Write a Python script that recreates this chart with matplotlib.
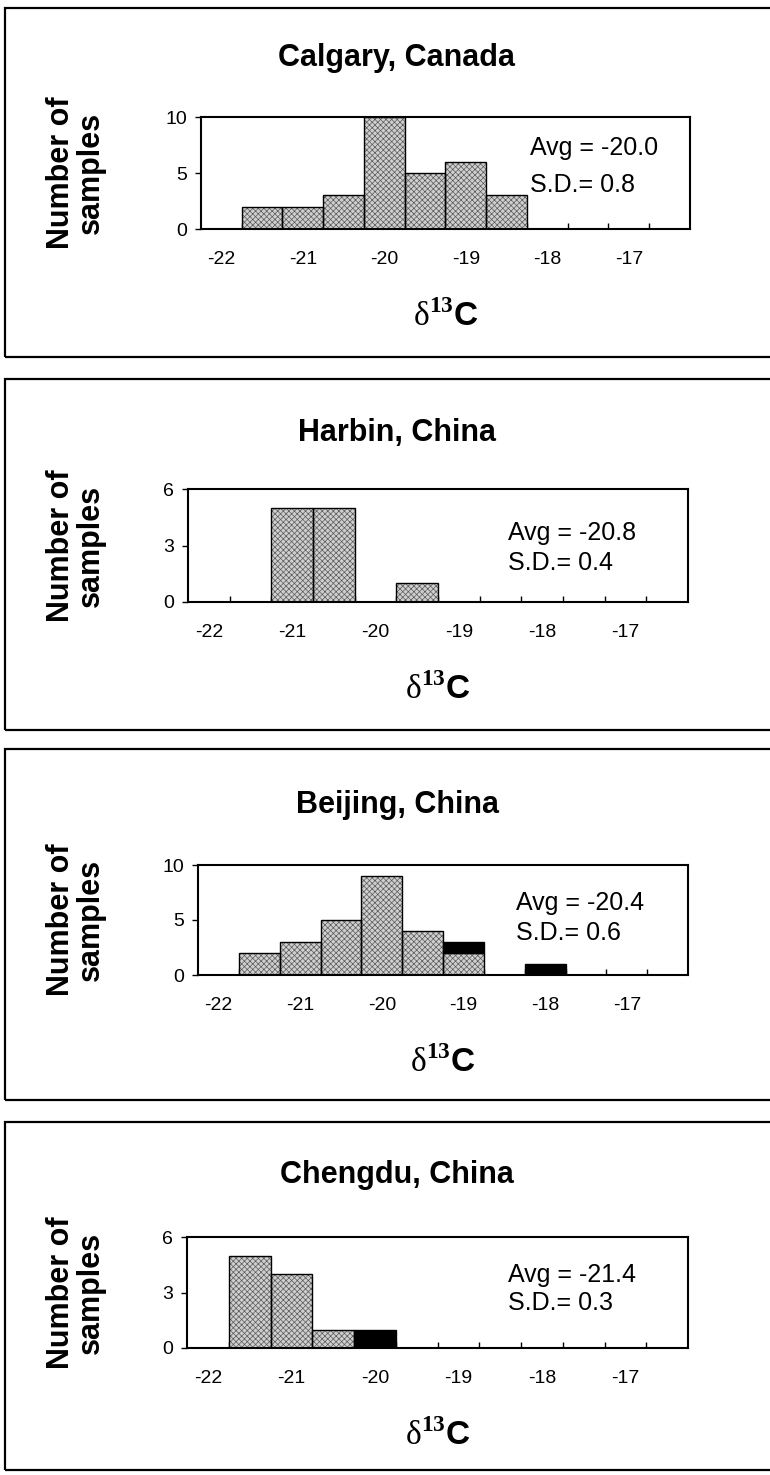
"""
d13C histograms for four cities, stacked in boxed panels.
"""
import numpy as np
import matplotlib
matplotlib.use("Agg")
import matplotlib.pyplot as plt
from matplotlib.patches import Rectangle

plt.rcParams["font.family"] = ["Liberation Sans", "DejaVu Sans"]
plt.rcParams["mathtext.fontset"] = "custom"
plt.rcParams["mathtext.rm"] = "Liberation Serif"
plt.rcParams["mathtext.bf"] = "Liberation Serif:bold"
plt.rcParams["mathtext.sf"] = "Liberation Sans:bold"
plt.rcParams["hatch.linewidth"] = 0.5

# ── data ────────────────────────────────────────────────────────────────────
sites = ["Calgary, Canada", "Harbin, China", "Beijing, China", "Chengdu, China"]

# category centres of the delta-13C axis (bins 0.5 wide)
categories = [-22.0, -21.5, -21.0, -20.5, -20.0, -19.5,
              -19.0, -18.5, -18.0, -17.5, -17.0, -16.5]
tick_values = [-22, -21, -20, -19, -18, -17]

calgary_gray = [0, 2, 2, 3, 10, 5, 6, 3, 0, 0, 0, 0]
harbin_gray  = [0, 0, 5, 5, 0, 1, 0, 0, 0, 0, 0, 0]
beijing_gray = [0, 2, 3, 5, 9, 4, 2, 0, 0, 0, 0, 0]
beijing_black = [0, 0, 0, 0, 0, 0, 1, 0, 1, 0, 0, 0]
chengdu_gray = [0, 5, 4, 1, 0, 0, 0, 0, 0, 0, 0, 0]
chengdu_black = [0, 0, 0, 0, 1, 0, 0, 0, 0, 0, 0, 0]
zeros = [0] * len(categories)

gray_counts  = [calgary_gray, harbin_gray, beijing_gray, chengdu_gray]
black_counts = [zeros, zeros, beijing_black, chengdu_black]

y_ticks = [[0, 5, 10], [0, 3, 6], [0, 5, 10], [0, 3, 6]]
averages = ["-20.0", "-20.8", "-20.4", "-21.4"]
std_devs = ["0.8", "0.4", "0.6", "0.3"]

# ── layout (pixels in the 770 x 1475 picture) ───────────────────────────────
W, H = 770, 1475
LAYOUT = [
    # box top/bottom, title y, plot x0,x1,y0,y1, avg x, avg y, sd y
    dict(box=(8, 357),     title=58,   plot=(201, 690, 117, 229),   avg=(530, 148, 185)),
    dict(box=(379, 730),   title=433,  plot=(188, 688, 489, 602),   avg=(508, 533, 563)),
    dict(box=(749, 1100),  title=805,  plot=(198, 688, 865, 975),   avg=(516, 903, 933)),
    dict(box=(1122, 1470), title=1175, plot=(187, 688, 1237, 1348), avg=(508, 1275, 1303)),
]


def fx(px):
    return px / W


def fy(py):
    return 1 - py / H


fig = plt.figure(figsize=(W / 100, H / 100), dpi=100)

for i, site in enumerate(sites):
    lay = LAYOUT[i]
    x0, x1, y0, y1 = lay["plot"]

    # panel frame (right side runs off the page like the scan)
    top, bot = lay["box"]
    fig.add_artist(Rectangle((fx(5), fy(bot)), 1.2, (bot - top) / H,
                             transform=fig.transFigure, fill=False,
                             lw=1.6, edgecolor="black"))

    ax = fig.add_axes([fx(x0), fy(y1), (x1 - x0) / W, (y1 - y0) / H])

    gray = np.array(gray_counts[i])
    black = np.array(black_counts[i])
    cats = np.array(categories)
    g = gray > 0
    # stippled grey bars: texture layer + outline layer
    ax.bar(cats[g], gray[g], width=0.5, facecolor="#cfcfcf",
           edgecolor="#5a5a5a", hatch="xxxxxx", linewidth=0, zorder=2)
    ax.bar(cats[g], gray[g], width=0.5, fill=False,
           edgecolor="black", linewidth=1.0, zorder=3)
    b = black > 0
    if b.any():
        ax.bar(cats[b], black[b], bottom=gray[b], width=0.5,
               color="black", edgecolor="black", linewidth=1.0, zorder=3)

    ax.set_xlim(-22.25, -16.25)
    ax.set_ylim(y_ticks[i][0], y_ticks[i][-1])
    ax.set_xticks(tick_values)
    ax.set_xticklabels([str(v) for v in tick_values])
    ax.set_xticks(np.arange(-21.75, -16.5, 0.5), minor=True)
    ax.tick_params(axis="x", which="major", length=0, pad=16, labelsize=14)
    ax.tick_params(axis="x", which="minor", direction="in", length=4, width=1)
    ax.set_yticks(y_ticks[i])
    ax.tick_params(axis="y", direction="out", length=4, width=1, pad=6,
                   labelsize=14)
    for sp in ax.spines.values():
        sp.set_linewidth(1.5)

    # title, y label, x label
    fig.text(fx(397), fy(lay["title"]), site, ha="center", va="center",
             fontsize=22, fontweight="bold")
    fig.text(fx(76), fy((y0 + y1) / 2), "Number of\nsamples", rotation=90,
             ha="center", va="center", fontsize=22, fontweight="bold",
             linespacing=1.0)
    fig.text(fx((x0 + x1) / 2), fy(y1 + 88), r"$\mathrm{\delta}^{\mathbf{13}}\mathsf{C}$",
             ha="center", va="center", fontsize=24)

    ax_, ay, sy = lay["avg"]
    fig.text(fx(ax_), fy(ay), f"Avg = {averages[i]}", ha="left", va="center",
             fontsize=18)
    fig.text(fx(ax_), fy(sy), f"S.D.= {std_devs[i]}", ha="left", va="center",
             fontsize=18)

fig.savefig("out.png", dpi=100, facecolor="white")
